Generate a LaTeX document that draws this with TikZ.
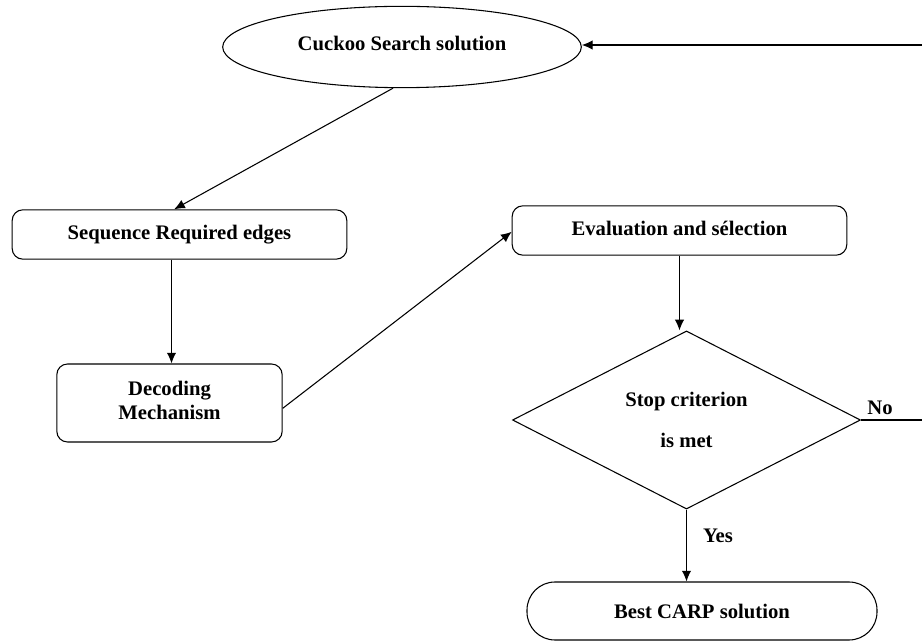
\documentclass[tikz,border=0pt]{standalone}
\usepackage{fontspec}
\setmainfont{Liberation Serif}
\usetikzlibrary{shapes.geometric,arrows.meta}

\begin{document}
\begin{tikzpicture}[x=0.75pt,y=-0.75pt,
    every node/.style={font=\fontsize{15.5}{18}\selectfont\bfseries},
    line/.style={line width=0.8pt},
    arr/.style={line width=0.8pt,-{Latex[length=8pt,width=7pt]}},
    stepbox/.style={draw,line width=0.8pt,rounded corners=8pt,inner sep=0pt},
    startend/.style={draw,ellipse,line width=0.8pt,inner sep=0pt},
    decision/.style={draw,diamond,line width=0.8pt,inner sep=0pt,align=center}]

    \useasboundingbox (0,0) rectangle (922,641);

    \coordinate (R1) at (922,45);
    \coordinate (R2) at (922,420);

    \node[startend,minimum width=269pt,minimum height=61pt] (cs) at (402,47)
        {\raisebox{5pt}{Cuckoo Search solution}};
    \node[stepbox,minimum width=251pt,minimum height=37pt] (seq) at (179.5,234.5)
        {\raisebox{1pt}{Sequence Required edges}};
    \node[stepbox,minimum width=169pt,minimum height=58.5pt,align=center] (dec) at (169.5,403)
        {Decoding\\Mechanism\\[-14pt]};
    \node[stepbox,minimum width=251pt,minimum height=37pt] (eval) at (679.5,230.5)
        {\raisebox{3pt}{Evaluation and sélection}};
    \node[decision,minimum width=261pt,minimum height=127pt] (stop) at (686.5,420)
        {\raisebox{2pt}{Stop criterion}\\[11pt]is met};
    \node[draw,line width=0.8pt,rounded corners=21pt,minimum width=262.5pt,minimum height=43.5pt] (best) at (702,611)
        {Best CARP solution};

    \draw[arr] (R1) -- (cs.east |- R1);
    \draw[arr] (cs.south) ++(-9,0) coordinate (c1) (c1) -- ([xshift=-4pt]seq.north);
    \draw[arr] ([xshift=-6pt]seq.south) -- ([xshift=-6pt]seq.south |- dec.north);
    \draw[arr] ([yshift=-4pt]dec.east) -- ([yshift=-1pt]eval.west);
    \draw[arr] (eval.south) -- (eval.south |- stop.north);
    \draw[line] (stop.east) -- (R2);
    \draw[arr] (stop.south) -- (best.north -| stop.south);

    \node at (880,408) {No};
    \node at (718,536) {Yes};

\end{tikzpicture}
\end{document}
